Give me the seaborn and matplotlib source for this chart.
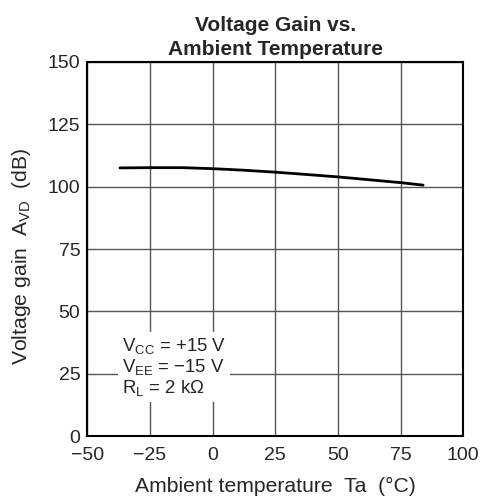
import numpy as np
import pandas as pd
import matplotlib
matplotlib.use("Agg")
import matplotlib.pyplot as plt
import seaborn as sns

temp = [-37, -25, -12, 0, 12, 25, 37, 50, 62, 75, 84]
gain = [107.5, 107.6, 107.6, 107.2, 106.6, 105.8, 104.9, 103.9, 102.8, 101.6, 100.6]
xticks = [-50, -25, 0, 25, 50, 75, 100]
yticks = [0, 25, 50, 75, 100, 125, 150]

df = pd.DataFrame({"Ta": temp, "Avd": gain})

sns.set_style("white")
plt.rcParams["font.family"] = ["Liberation Sans", "DejaVu Sans"]
plt.rcParams["mathtext.fontset"] = "custom"
plt.rcParams["mathtext.rm"] = "Liberation Sans"
plt.rcParams["mathtext.it"] = "Liberation Sans"

fig = plt.figure(figsize=(4.8, 4.99), dpi=100)
ax = fig.add_axes([0.182, 0.126, 0.783, 0.75])

sns.lineplot(data=df, x="Ta", y="Avd", color="black", linewidth=2, ax=ax)

ax.set_xlim(-50, 100)
ax.set_ylim(0, 150)
ax.set_xticks(xticks)
ax.set_yticks(yticks)
ax.set_xticklabels([str(t).replace("-", "\u2212") for t in xticks], fontsize=14)
ax.set_yticklabels([str(t) for t in yticks], fontsize=14)
ax.tick_params(axis="x", length=0, pad=7.5)
ax.tick_params(axis="y", length=0, pad=5)
ax.grid(True, color="#555555", linewidth=1)
for s in ax.spines.values():
    s.set_color("black")
    s.set_linewidth(1.5)

ax.set_title("Voltage Gain vs.\nAmbient Temperature", fontsize=15, fontweight="bold", pad=5, linespacing=1.35)
ax.set_xlabel("Ambient temperature  Ta  (°C)", fontsize=15.2)
ax.set_ylabel("Voltage gain  A$_{\\mathrm{VD}}$  (dB)", fontsize=15.2)
ax.xaxis.set_label_coords(0.5, -0.11)
ax.yaxis.set_label_coords(-0.145, 0.48)

ax.text(-36.2, 40, "V$_{\\mathrm{CC}}$ = +15 V\nV$_{\\mathrm{EE}}$ = \u221215 V\nR$_{\\mathrm{L}}$ = 2 k\u03a9",
        fontsize=13.4, va="top", ha="left", linespacing=1.05,
        bbox=dict(facecolor="white", edgecolor="none", pad=3))

fig.savefig("out.png", dpi=100)
